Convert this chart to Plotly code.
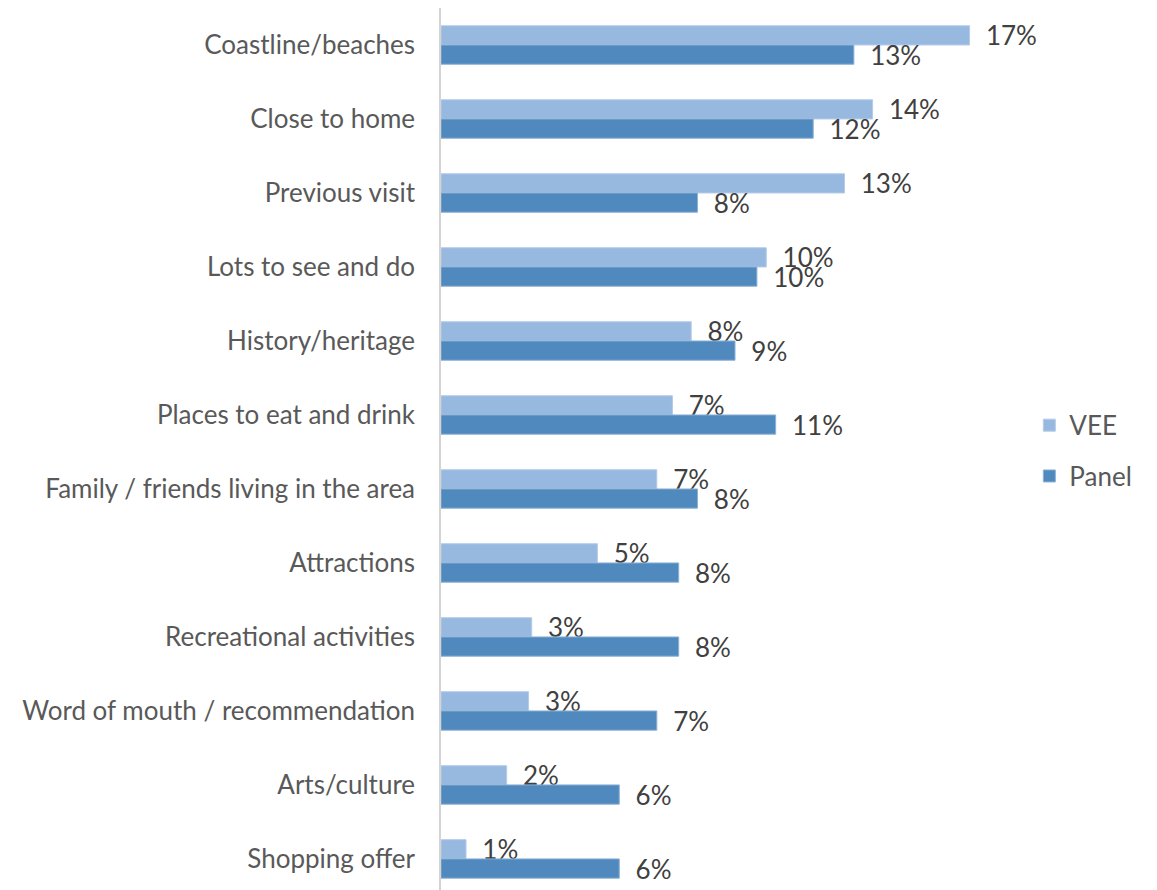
import plotly.graph_objects as go

# Reasons for choosing the destination, share of respondents
categories = [
    "Coastline/beaches",
    "Close to home",
    "Previous visit",
    "Lots to see and do",
    "History/heritage",
    "Places to eat and drink",
    "Family / friends living in the area",
    "Attractions",
    "Recreational activities",
    "Word of mouth / recommendation",
    "Arts/culture",
    "Shopping offer",
]
vee = [0.169, 0.138, 0.129, 0.104, 0.080, 0.074, 0.069, 0.050, 0.029, 0.028, 0.021, 0.008]
panel = [0.132, 0.119, 0.082, 0.101, 0.094, 0.107, 0.082, 0.076, 0.076, 0.069, 0.057, 0.057]

FONT = "Lato"
LABEL_SIZE = 26

fig = go.Figure()
fig.add_trace(go.Bar(
    y=categories, x=vee, name="VEE", orientation="h",
    marker=dict(color="#97B9E0", line=dict(color="#B4CCEA", width=1)),
    texttemplate="  %{x:.0%}", textposition="outside", cliponaxis=False,
    constraintext="none",
    textfont=dict(family=FONT, size=LABEL_SIZE, color="#404040"),
    legendgroup="vee",
))
fig.add_trace(go.Bar(
    y=categories, x=panel, name="Panel", orientation="h",
    marker=dict(color="#4F89BD", line=dict(color="#8DB0D6", width=1)),
    texttemplate="  %{x:.0%}", textposition="outside", cliponaxis=False,
    constraintext="none",
    textfont=dict(family=FONT, size=LABEL_SIZE, color="#404040"),
    legendgroup="panel",
))

fig.update_layout(
    width=1157, height=890,
    margin=dict(l=441, r=153, t=8, b=0),
    paper_bgcolor="white", plot_bgcolor="white",
    barmode="group", bargap=0.48, bargroupgap=0,
    font=dict(family=FONT, size=LABEL_SIZE, color="#595959"),
    showlegend=True,
    legend=dict(
        x=1.045, xanchor="left", y=0.498, yanchor="middle",
        traceorder="grouped", tracegroupgap=14,
        font=dict(family=FONT, size=LABEL_SIZE, color="#595959"),
        bgcolor="rgba(0,0,0,0)",
    ),
    xaxis=dict(range=[0, 0.18], visible=False, showgrid=False, zeroline=False),
    yaxis=dict(
        range=[11.42, -0.5], showgrid=False, zeroline=False,
        showline=True, linecolor="#D4D4D4", linewidth=1.5,
        ticks="", ticklabelstandoff=19,
        tickfont=dict(family=FONT, size=LABEL_SIZE, color="#595959"),
    ),
)

fig.write_html("out.html")
